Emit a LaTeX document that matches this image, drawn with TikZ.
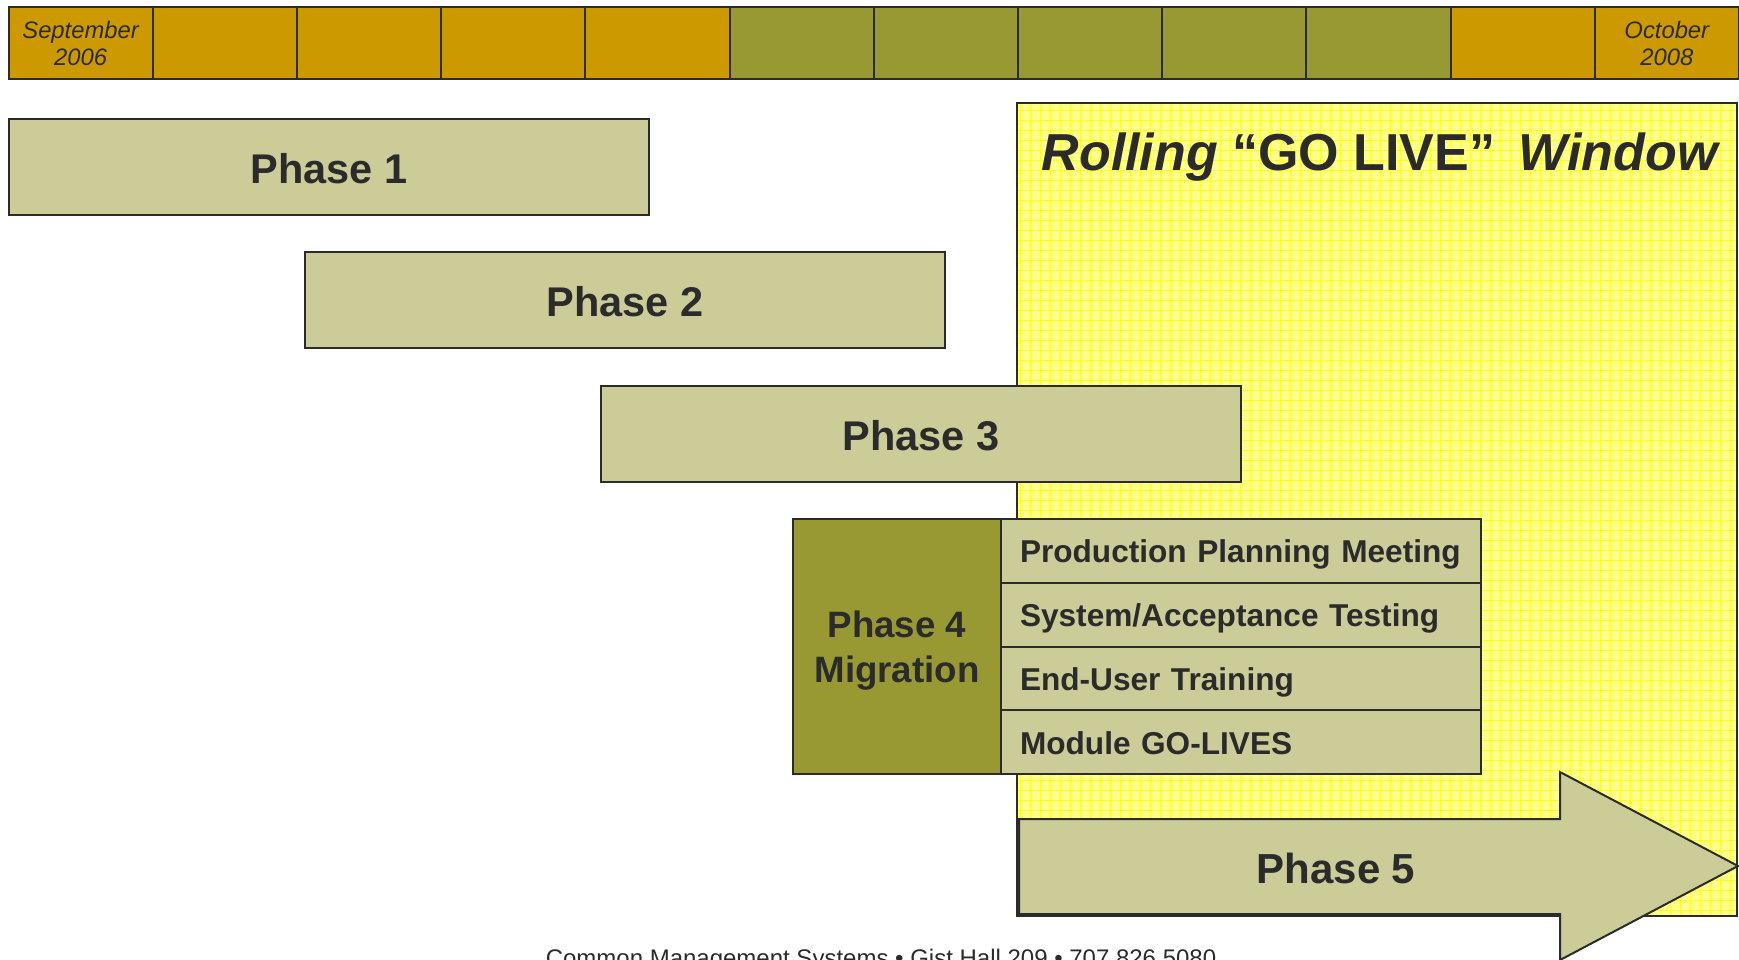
\documentclass[tikz,border=0pt]{standalone}
\usepackage{fontspec}
\setmainfont{Liberation Sans}
\usetikzlibrary{positioning}
\definecolor{gold}{HTML}{CC9900}
\definecolor{olive}{HTML}{999933}
\definecolor{phasefill}{HTML}{CCCC99}
\definecolor{ink}{HTML}{2B2B2B}
\definecolor{winfill}{HTML}{FFFF90}
\definecolor{winline}{HTML}{FFFF20}
\tikzset{
    every node/.style={
        text=ink
    },
    every path/.style={
        color=ink,
        line width=1pt
    }
}
\tikzstyle{month}=[draw, minimum width=72.1pt, minimum height=36pt, inner sep=0pt, align=center, font=\itshape\fontsize{11.9}{13.5}\selectfont]
\tikzstyle{phase}=[draw, fill=phasefill, minimum width=320pt, minimum height=48pt, inner sep=0pt, text height=17pt, text depth=0pt, font=\bfseries\fontsize{20.75}{24}\selectfont]
\tikzstyle{task}=[draw, fill=phasefill, text width=221pt, inner xsep=9.5pt, inner ysep=0pt, minimum height=31.9pt, outer sep=0pt, text height=12pt, text depth=0pt, align=left, font=\bfseries\fontsize{15.8}{19}\selectfont]

\begin{document}
\begin{tikzpicture}[x=0.5pt, y=-0.5pt]
\useasboundingbox (0,0) rectangle (1739,959);

\foreach \i/\c in {0/gold,1/gold,2/gold,3/gold,4/gold,5/olive,6/olive,7/olive,8/olive,9/olive,10/gold,11/gold}
    \node[month, fill=\c] (m\i) at ({80.6+144.2*\i},43) {};
\node[month, draw=none] (start) at (m0.center) {September\\2006};
\node[month, draw=none] (end) at (m11.center) {October\\2008};

\node[fill=winfill, minimum width=360pt, minimum height=406.5pt, inner sep=0pt, outer sep=0pt] (win) at (1377,509.5) {};
\begin{scope}[every path/.style={}]
\clip (win.south west) rectangle (win.north east);
\draw[winline, line width=0.5pt] (win.south west) grid[step=5pt] (win.north east);
\end{scope}
\draw (win.north west) rectangle (win.south east);
\node[text depth=0pt, font=\bfseries\fontsize{26}{30}\selectfont] (golive) at (1381,152) {\textit{Rolling} “GO LIVE”\hspace{0.45em}\textit{Window}};

\node[phase] (p1) at (329,166.5) {Phase 1};
\node[phase] (p2) at (625,299.5) {Phase 2};
\node[phase] (p3) at (921,433.5) {Phase 3};

\node[draw, fill=olive, minimum width=104pt, minimum height=127.5pt, inner sep=0pt, outer sep=0pt, text depth=0pt, align=center, font=\bfseries\fontsize{18.35}{22.25}\selectfont] (p4) at (897,646.5) {Phase 4\\Migration};
\node[task, anchor=north west] (t1) at (p4.north east) {Production Planning Meeting};
\node[task, below=0pt of t1] (t2) {System/Acceptance Testing};
\node[task, below=0pt of t2] (t3) {End-User Training};
\node[task, below=0pt of t3] (t4) {Module GO-LIVES};

\draw[fill=phasefill, line join=miter] (1019,819) -- (1560,819) -- (1560,772) -- (1738,866) -- (1560,960) -- (1560,914) -- (1019,914) -- cycle;
\node[text height=16pt, text depth=0pt, font=\bfseries\fontsize{21}{24}\selectfont] (p5) at (1336,867) {Phase 5};

\node[anchor=base, font=\fontsize{12}{14}\selectfont] (foot) at (881,966) {Common Management Systems • Gist Hall 209 • 707.826.5080};
\end{tikzpicture}
\end{document}
